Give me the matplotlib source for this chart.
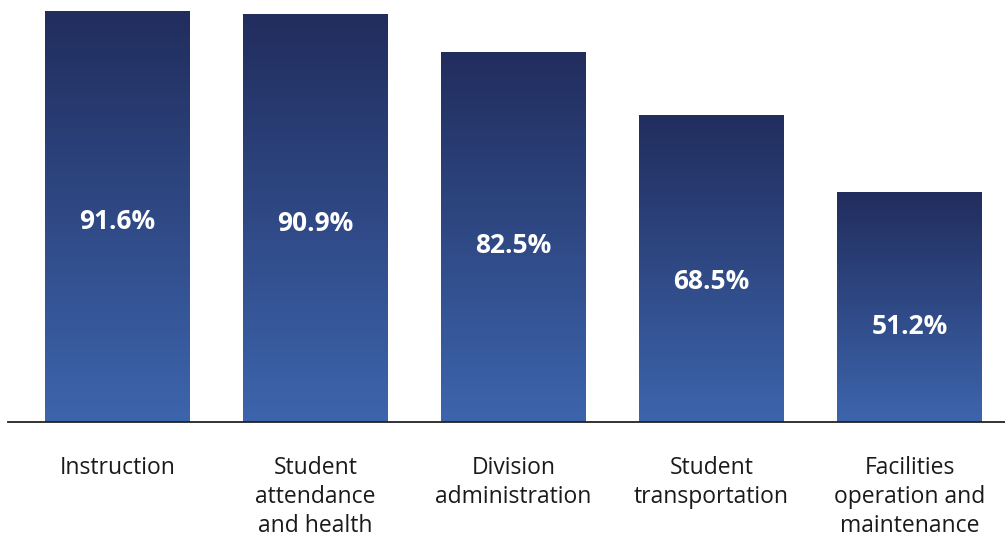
import matplotlib.pyplot as plt
import matplotlib.colors as mcolors
import numpy as np

plt.rcParams.update({
    "font.family": "sans-serif",
    "font.sans-serif": ["Open Sans", "DejaVu Sans"],
})

###############################################################################

categories = ["Instruction", "Student\nattendance\nand health",
              "Division\nadministration", "Student\ntransportation",
              "Facilities\noperation and\nmaintenance"]
shares = [91.6, 90.9, 82.5, 68.5, 51.2]
share_labels = ["91.6%", "90.9%", "82.5%", "68.5%", "51.2%"]

TOP = "#212d5d"
BOTTOM = "#3d65ad"
TEXT = "#1a1a1a"

###############################################################################

fig = plt.figure(figsize=(10.05, 5.37), dpi=100)
ax = fig.add_axes([8/1005, 1-422/537, 997/1005, 422/537])

x = np.arange(len(shares))
bars = ax.bar(x, shares, width=0.732, color="none", linewidth=0)

# vertical gradient in each bar, dark at the top
cmap = mcolors.LinearSegmentedColormap.from_list("bar", [BOTTOM, TOP])
grad = np.linspace(0, 1, 256).reshape(-1, 1)
for bar in bars:
    x0, y0 = bar.get_x(), bar.get_y()
    w, h = bar.get_width(), bar.get_height()
    im = ax.imshow(grad, cmap=cmap, origin="lower", aspect="auto",
                   extent=(x0, x0 + w, y0, y0 + h), interpolation="bilinear",
                   zorder=1)
    im.set_clip_path(bar)

for xi, v, lab in zip(x, shares, share_labels):
    ax.text(xi, 0.582*v - 8.58, lab, color="white", fontsize=19,
            fontweight="bold", ha="center", va="center", zorder=3)

for xi, cat in zip(x, categories):
    ax.text(xi, -7.5, cat, color=TEXT, fontsize=16.5, ha="center",
            va="top", linespacing=1.28)

ax.set_xlim(-109.5/198, 887.5/198)
ax.set_ylim(0, 422/4.487)

for side in ["top", "right", "left"]:
    ax.spines[side].set_visible(False)
ax.spines["bottom"].set_color("#222222")
ax.spines["bottom"].set_linewidth(1.3)
ax.set_xticks([])
ax.set_yticks([])

fig.savefig("out.png", dpi=100)
